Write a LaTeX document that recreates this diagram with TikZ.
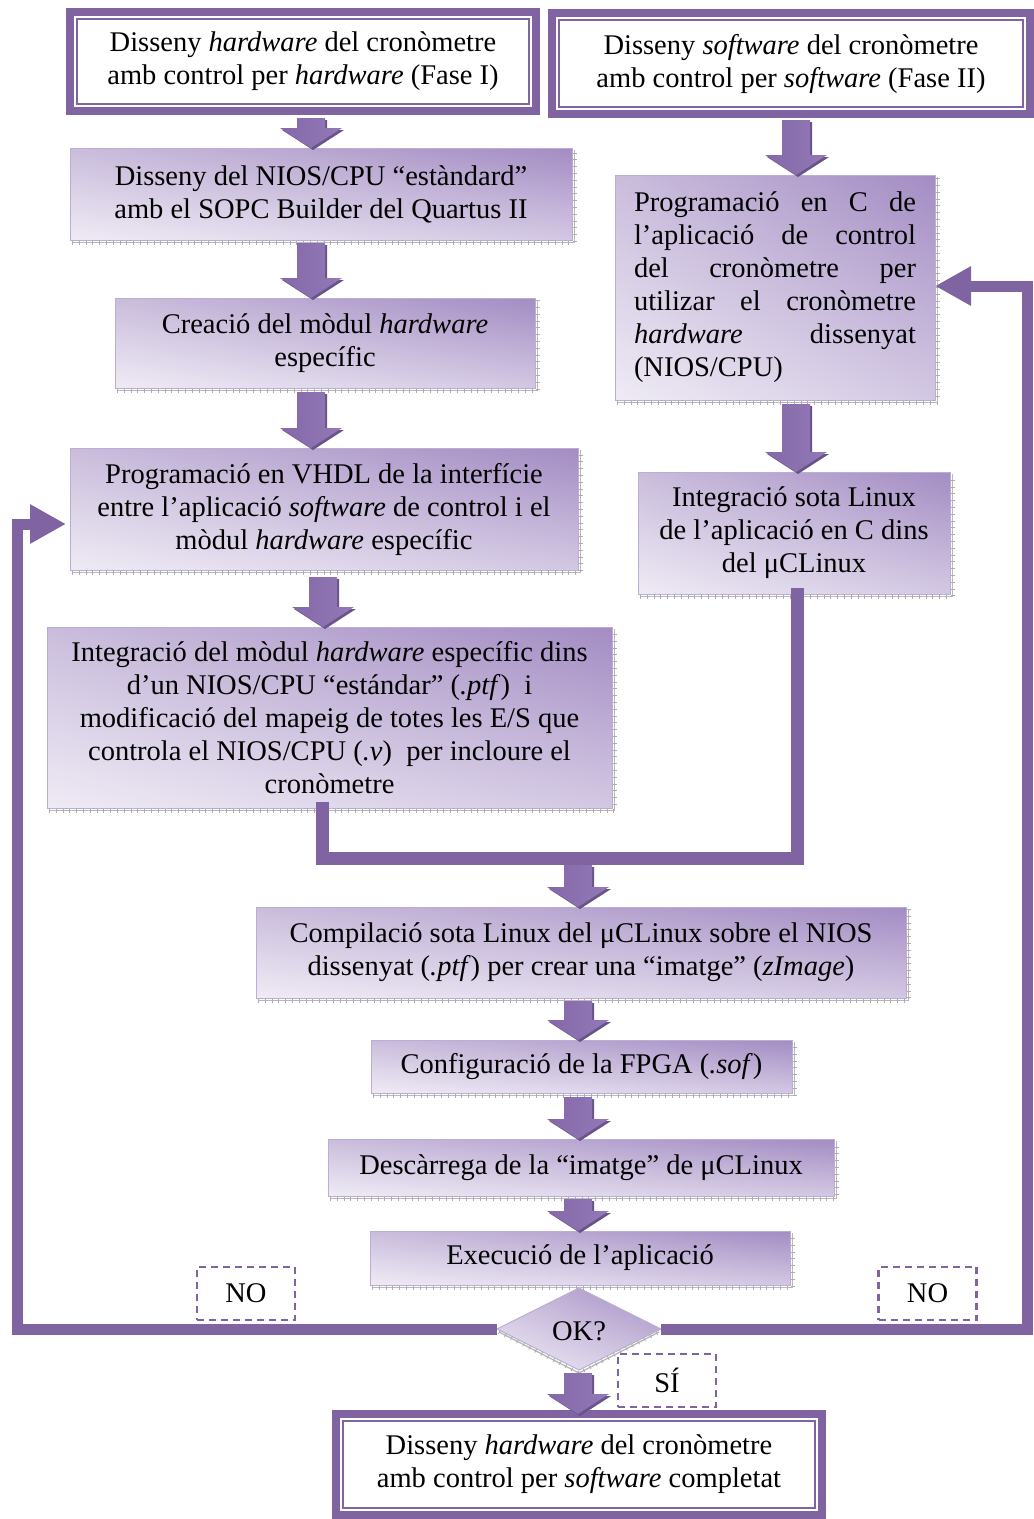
\documentclass[tikz,border=0pt]{standalone}
\usepackage{fontspec}
\setmainfont{Liberation Serif}
\usetikzlibrary{shapes.geometric,calc,shadings,arrows.meta}
\definecolor{purp}{HTML}{8064A2}
\definecolor{boxline}{HTML}{BBAED2}
\definecolor{gUL}{HTML}{CABDDC}
\definecolor{gUR}{HTML}{A38CC3}
\definecolor{gLL}{HTML}{EFEBF5}
\definecolor{gLR}{HTML}{D3C8E3}
\definecolor{arA}{HTML}{8468A8}
\definecolor{arB}{HTML}{C7B8DC}
\definecolor{arC}{HTML}{9379B8}
\definecolor{arS}{HTML}{6A5388}
\newcommand\flowfont{\fontsize{28.5}{33}\selectfont}

% gradient block arrow pointing down, from #1 (top, gives x) to the height of #2
\newcommand\blockarrow[2]{%
  \fill[arS] let \p1=(#1), \p2=(#2) in
    (\x1+14pt,\y1-2pt) -- (\x1+16pt,\y1-2pt) -- (\x1+16pt,\y2+20pt-2pt)
    -- (\x1+33pt,\y2+20pt-2pt) -- (\x1+2pt,\y2-2pt) -- (\x1-29pt,\y2+20pt-2pt)
    -- (\x1,\y2+20pt-2pt) -- cycle;
  \shade[left color=arA, middle color=arB, right color=arC] let \p1=(#1), \p2=(#2) in
    (\x1-14pt,\y1) -- (\x1+14pt,\y1) -- (\x1+14pt,\y2+20pt)
    -- (\x1+31pt,\y2+20pt) -- (\x1,\y2) -- (\x1-31pt,\y2+20pt)
    -- (\x1-14pt,\y2+20pt) -- cycle;}

% grey ticked edge under and right of a process box
\newcommand\boxedge[1]{%
  \draw[gray!55, line width=1.2pt] ([shift={(2,2.5)}]#1.south west) -- ([shift={(2.5,2.5)}]#1.south east) -- ([shift={(2.5,2)}]#1.north east);
  \draw[gray!65, line width=4pt, dash pattern=on 0.8pt off 6pt] ([shift={(2,2.5)}]#1.south west) -- ([shift={(2.5,2.5)}]#1.south east) -- ([shift={(2.5,2)}]#1.north east);}

\begin{document}
\begin{tikzpicture}[x=1pt,y=-1pt,
  every node/.style={font=\flowfont, outer sep=0pt},
  procbox/.style={rectangle, draw=boxline, line width=1pt, align=center, inner sep=0pt,
    shade, upper left=gUL, upper right=gUR, lower left=gLL, lower right=gLR},
  framebox/.style={rectangle, draw=purp, line width=8pt, fill=white, align=center, inner sep=0pt},
  innerframe/.style={draw=purp, line width=1.6pt},
  tagbox/.style={rectangle, draw=purp, line width=2.2pt, dash pattern=on 7pt off 5pt,
    minimum width=98pt, minimum height=53pt, inner sep=0pt},
  flowline/.style={draw=purp, line width=11pt, line join=miter},
  mergeline/.style={draw=purp, line width=13pt, line join=miter},
  looptip/.style={-{Triangle[length=36pt 0 0, width=37pt 0 0]}}]
\useasboundingbox (0,0) rectangle (1034,1519);

% phase headers
\node[framebox, minimum width=466pt, minimum height=99pt] (tl) at (303,61.5)
  {Disseny \textit{hardware} del cronòmetre\\amb control per \textit{hardware} (Fase I)};
\draw[innerframe] ([shift={(7,7)}]tl.north west) rectangle ([shift={(-7,-7)}]tl.south east);
\node[framebox, minimum width=478pt, minimum height=101pt] (tr) at (791,63.5)
  {Disseny \textit{software} del cronòmetre\\amb control per \textit{software} (Fase II)};
\draw[innerframe] ([shift={(7,7)}]tr.north west) rectangle ([shift={(-7,-7)}]tr.south east);

% column positions of the block arrows
\coordinate (cA) at (311,0);
\coordinate (cB) at (323,0);
\coordinate (cR) at (796,0);
\coordinate (cM) at (578,0);

% turning points of the feedback loops
\coordinate (lin) at (17,524);
\coordinate (rin) at (1027,286);

% left-hand process column
\node[procbox, minimum width=502pt, minimum height=92pt] (b1) at (321,194)
  {Disseny del NIOS/CPU “estàndard”\\amb el SOPC Builder del Quartus II};
\node[procbox, minimum width=420pt, minimum height=90pt] (b2) at (325,343)
  {Creació del mòdul \textit{hardware}\\específic};
\node[procbox, minimum width=508pt, minimum height=122pt] (b3) at (324,509)
  {Programació en VHDL de la interfície\\entre l’aplicació \textit{software} de control i el\\mòdul \textit{hardware} específic};
\node[procbox, minimum width=565pt, minimum height=181pt] (b4) at (329.5,717.5)
  {Integració del mòdul \textit{hardware} específic dins\\d’un NIOS/CPU “estándar” (\textit{.ptf})~ i\\modificació del mapeig de totes les E/S que\\controla el NIOS/CPU (\textit{.v})~ per incloure el\\cronòmetre};

% right-hand process column
\node[procbox, minimum width=320pt, minimum height=225pt, align=left] (b5) at (775,287.5)
  {\makebox[282pt][s]{Programació en C de}\\
   \makebox[282pt][s]{l’aplicació de control}\\
   \makebox[282pt][s]{del cronòmetre per}\\
   \makebox[282pt][s]{utilizar el cronòmetre}\\
   \makebox[282pt][s]{\textit{hardware} dissenyat}\\
   \makebox[282pt][l]{(NIOS/CPU)}};
\node[procbox, minimum width=312pt, minimum height=122pt] (b6) at (794,533)
  {Integració sota Linux\\de l’aplicació en C dins\\del μCLinux};

% common trunk
\node[procbox, minimum width=650pt, minimum height=91pt] (b7) at (581,952.5)
  {Compilació sota Linux del μCLinux sobre el NIOS\\dissenyat (\textit{.ptf}) per crear una “imatge” (\textit{zImage})};
\node[procbox, minimum width=421pt, minimum height=53pt] (b8) at (581.5,1066.5)
  {Configuració de la FPGA (\textit{.sof})};
\node[procbox, minimum width=506pt, minimum height=57pt] (b9) at (581,1167.5)
  {Descàrrega de la “imatge” de μCLinux};
\node[procbox, minimum width=420pt, minimum height=54pt] (b10) at (580,1258)
  {Execució de l’aplicació};

\foreach \n in {b1,b2,b3,b4,b5,b6,b7,b8,b9,b10} {\boxedge{\n}}

% decision
\node[diamond, draw=boxline, line width=1pt, minimum width=164pt, minimum height=82pt, inner sep=0pt,
  shade, upper left=gUL, upper right=gUR, lower left=gLL, lower right=gLR] (ok) at (579,1329) {};
\draw[gray!60, line width=1.2pt] ([shift={(2,3)}]ok.west) -- ([shift={(0,3)}]ok.south) -- ([shift={(-2,3)}]ok.east);
\draw[gray!65, line width=4pt, dash pattern=on 0.8pt off 6pt] ([shift={(2,3)}]ok.west) -- ([shift={(0,3)}]ok.south) -- ([shift={(-2,3)}]ok.east);
\node (oktext) at (579,1331) {OK?};

% feedback loops
\draw[flowline, looptip] (ok.west) -| (lin) -- ([xshift=-4pt]lin -| b3.west);
\draw[flowline, looptip] (ok.east) -| (rin) -- (rin -| b5.east);

% merge of both branches
\coordinate (mL) at (322.5,858);
\coordinate (mR) at (797,858);
\draw[mergeline] ([yshift=6]b4.south -| mL) -- (mL) -- (mR) -- ([yshift=6]b6.south -| mR);

% completion
\node[framebox, minimum width=486pt, minimum height=101pt] (fin) at (579,1464.5)
  {Disseny \textit{hardware} del cronòmetre\\amb control per \textit{software} completat};
\draw[innerframe] ([shift={(7,7)}]fin.north west) rectangle ([shift={(-7,-7)}]fin.south east);

% outcome labels
\node[tagbox] (noL) at (246,1293.5) {NO};
\node[tagbox] (noR) at (927.5,1293.5) {NO};
\node[tagbox] (yes) at (667,1380.5) {SÍ};

% block arrows
\blockarrow{$(tl.south -| cA)+(0,7)$}{b1.north -| cA}
\blockarrow{$(b1.south -| cA)+(0,3)$}{b2.north -| cA}
\blockarrow{$(b2.south -| cA)+(0,4)$}{b3.north -| cA}
\blockarrow{$(b3.south -| cB)+(0,7)$}{b4.north -| cB}
\blockarrow{$(tr.south -| cR)+(0,6)$}{b5.north -| cR}
\blockarrow{$(b5.south -| cR)+(0,4)$}{b6.north -| cR}
\blockarrow{$(mL -| cM)+(0,7)$}{b7.north -| cM}
\blockarrow{$(b7.south -| cM)+(0,3)$}{b8.north -| cM}
\blockarrow{$(b8.south -| cM)+(0,4)$}{b9.north -| cM}
\blockarrow{$(b9.south -| cM)+(0,3)$}{b10.north -| cM}
\blockarrow{$(ok.south -| cM)+(0,3)$}{fin.north -| cM}
\end{tikzpicture}
\end{document}
